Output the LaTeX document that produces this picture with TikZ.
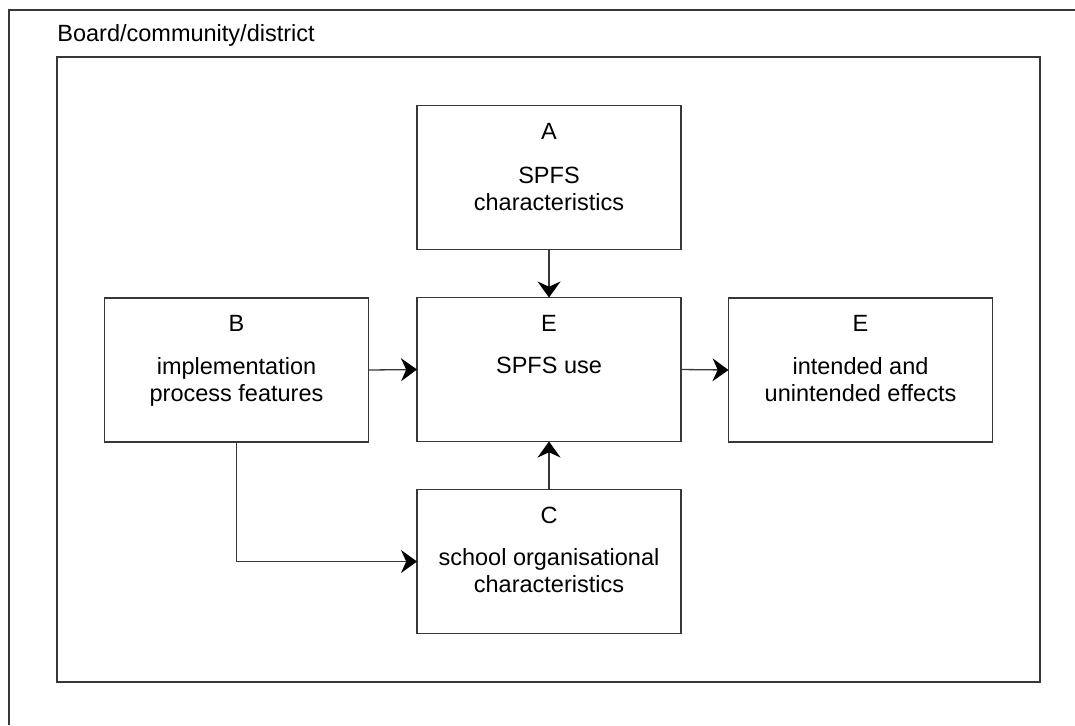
\documentclass[tikz,border=0pt]{standalone}
\usepackage{fontspec}
\setmainfont{Liberation Sans}
\usetikzlibrary{calc,arrows.meta}

\definecolor{edge}{RGB}{55,55,55}

\tikzset{
  box/.style={draw=edge, line width=0.65pt, minimum width=132pt, minimum height=72pt,
              inner sep=0pt, outer sep=0pt, fill=white},
  txt/.style={font=\fontsize{11.75pt}{13.5pt}\selectfont, inner sep=0pt, anchor=base},
  link/.style={draw=edge, line width=0.65pt,
               -{Stealth[length=8pt, width=11.5pt, inset=2.6pt, color=black]}},
  frame/.style={draw=edge, line width=0.65pt}
}

\begin{document}
\begin{tikzpicture}[x=0.5pt, y=-0.5pt]
  \useasboundingbox (0,0) rectangle (1075,725);

  % outer region (runs past the page edge)
  \draw[frame] (9,725) -- (9,10) -- (1075,10);
  \node[txt, anchor=base west] (region) at (57,41) {Board/community/district};

  % inner frame
  \draw[frame] (57,57) rectangle (1040,682);

  % boxes
  \node[box] (A)  at (549,177.5) {};
  \node[box] (E)  at (549,369.5) {};
  \node[box] (B)  at (236.5,370) {};
  \node[box] (E2) at (860.5,370) {};
  \node[box] (C)  at (549,561.5) {};

  % box texts
  \node[txt] (At)  at ($(A.north)+(0,33.5)$) {A};
  \node[txt] (A1)  at ($(A.north)+(0,78)$) {SPFS};
  \node[txt] (A2)  at ($(A.north)+(0,105)$) {characteristics};

  \node[txt] (Et)  at ($(E.north)+(0,33.5)$) {E};
  \node[txt] (E1)  at ($(E.north)+(0,76)$) {SPFS use};

  \node[txt] (Bt)  at ($(B.north)+(0,33.5)$) {B};
  \node[txt] (B1)  at ($(B.north)+(0,76)$) {implementation};
  \node[txt] (B2)  at ($(B.north)+(0,103)$) {process features};

  \node[txt] (E2t) at ($(E2.north)+(0,33.5)$) {E};
  \node[txt] (E21) at ($(E2.north)+(0,76)$) {intended and};
  \node[txt] (E22) at ($(E2.north)+(0,103)$) {unintended effects};

  \node[txt] (Ct)  at ($(C.north)+(0,33.5)$) {C};
  \node[txt] (C1)  at ($(C.north)+(0,76)$) {school organisational};
  \node[txt] (C2)  at ($(C.north)+(0,103)$) {characteristics};

  % connectors
  \draw[link] (A.south) -- (E.north);
  \draw[link] (B.east) -- (E.west);
  \draw[link] (E.east) -- (E2.west);
  \draw[link] (C.north) -- (E.south);
  \draw[link] (B.south) |- (C.west);
\end{tikzpicture}
\end{document}
